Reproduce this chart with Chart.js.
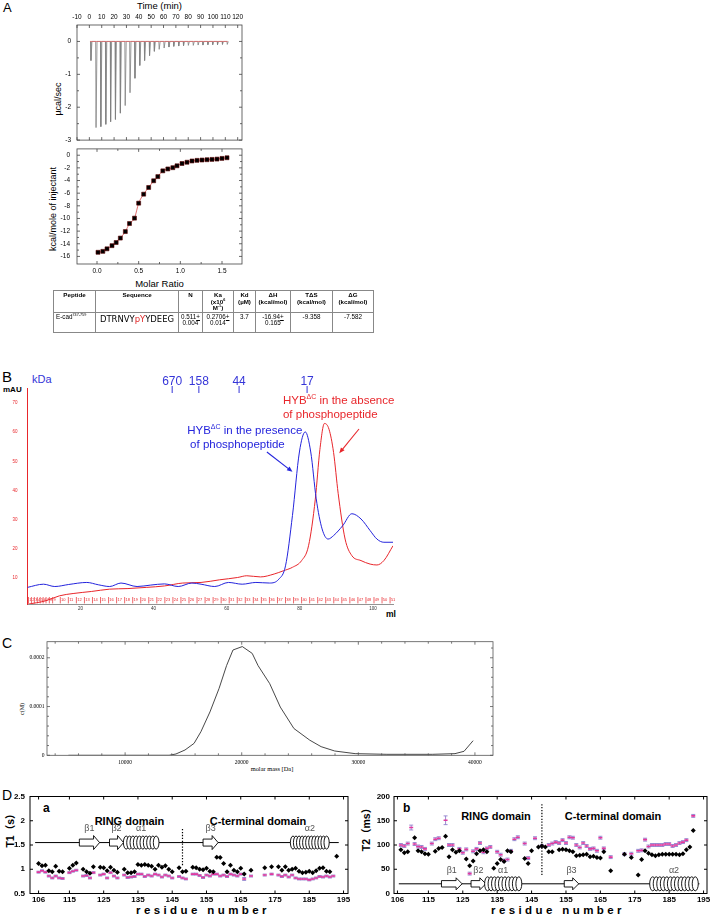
<!DOCTYPE html>
<html>
<head>
<meta charset="utf-8">
<title>HYB binding figure</title>
<script src="https://cdn.jsdelivr.net/npm/chart.js@4.4.1/dist/chart.umd.min.js"></script>
<style>
  html, body { margin: 0; padding: 0; background: #fff; }
  body { position: relative; width: 713px; height: 916px; overflow: hidden; font-family: "Liberation Sans", Arial, sans-serif; color: #000; }
  .cv { position: absolute; }
  .t { position: absolute; white-space: nowrap; line-height: 1; transform: translate(-50%, -50%); }
  .r { transform: translate(-50%, -50%) rotate(-90deg); }
  .p { position: absolute; white-space: nowrap; line-height: 1; }
  .b { font-weight: bold; }
  .serif { font-family: "Liberation Serif", "DejaVu Serif", serif; }
  #tbl { position: absolute; left: 53px; top: 290px; width: 320px; border-collapse: collapse; table-layout: fixed;
         font-family: "Liberation Sans", Arial, sans-serif; font-size: 6.3px; }
  #tbl th, #tbl td { border: 0.7px solid #888; vertical-align: top; text-align: center; padding: 1px 1px 0; line-height: 1.05; }
  #tbl th { font-weight: bold; font-size: 6.2px; }
  #tbl tr.h { height: 21px; }
  #tbl tr.d { height: 20px; }
  #tbl td.pep { text-align: left; padding-left: 2px; }
  #tbl td.seq { font-size: 9.4px; padding-top: 1px; font-family: "Liberation Sans Narrow", "DejaVu Sans Condensed", sans-serif; }
  #tbl sup { font-size: 60%; line-height: 0; }
  #tbl u { text-decoration-thickness: 0.5px; }
</style>
</head>
<body>

<div class="p" style="left:3px;top:1px;font-size:13px">A</div>
<div class="t" style="left:159.5px;top:5.5px;font-size:9.5px">Time (min)</div>
<div class="t r" style="left:58px;top:98.5px;font-size:9px">µcal/sec</div>
<div class="t r" style="left:53px;top:208.6px;font-size:9px">kcal/mole of injectant</div>
<div class="t" style="left:159.5px;top:284px;font-size:9.5px">Molar Ratio</div>

<div class="cv" style="left:20px;top:0px;width:240px;height:150px"><canvas id="itcRaw"></canvas></div>
<div class="cv" style="left:20px;top:138px;width:240px;height:160px"><canvas id="itcFit"></canvas></div>

<table id="tbl">
  <colgroup><col style="width:42px"><col style="width:83px"><col style="width:24px"><col style="width:31px"><col style="width:22px"><col style="width:35px"><col style="width:42px"><col style="width:41px"></colgroup>
  <tr class="h"><th>Peptide</th><th>Sequence</th><th>N</th><th>Ka<br>(x10<sup>6</sup><br>M<sup>-1</sup>)</th><th>Kd<br>(µM)</th><th>ΔH<br>(kcal/mol)</th><th>TΔS<br>(kcal/mol)</th><th>ΔG<br>(kcal/mol)</th></tr>
  <tr class="d"><td class="pep">E-cad<sup>747-759</sup></td><td class="seq">DTRNVY<span style="color:#e02424">pY</span>YDEEG</td><td>0.511<u>+</u><br>0.004</td><td>0.2706<u>+</u><br>0.014</td><td>3.7</td><td>-16.94<u>+</u><br>0.165</td><td>-9.358</td><td>-7.582</td></tr>
</table>

<div class="p" style="left:2px;top:369px;font-size:15px">B</div>
<div class="p" style="left:32px;top:374px;font-size:11px;color:#3535d8">kDa</div>
<div class="p b" style="left:3px;top:386px;font-size:8px">mAU</div>
<div class="p b" style="left:386px;top:610px;font-size:8.5px">ml</div>
<div class="cv" style="left:0px;top:360px;width:420px;height:265px"><canvas id="sec"></canvas></div>

<div class="p" style="left:2px;top:636px;font-size:14px">C</div>
<div class="t r serif" style="left:22px;top:709px;font-size:6px">c(M)</div>
<div class="t serif" style="left:272px;top:769px;font-size:6.4px">molar mass [Da]</div>
<div class="cv" style="left:0px;top:632px;width:515px;height:148px"><canvas id="auc"></canvas></div>

<div class="p" style="left:2px;top:788px;font-size:14px">D</div>
<div class="p b" style="left:43px;top:802px;font-size:12px">a</div>
<div class="p b" style="left:403px;top:802px;font-size:12px">b</div>
<div class="t b" style="left:129.5px;top:820.5px;font-size:11px">RING domain</div>
<div class="t b" style="left:258px;top:820.5px;font-size:11px">C-terminal domain</div>
<div class="t b" style="left:496px;top:815.5px;font-size:11px">RING domain</div>
<div class="t b" style="left:613px;top:815.5px;font-size:11px">C-terminal domain</div>
<div class="t r b" style="left:9.5px;top:828px;font-size:10.5px;font-family:'Liberation Sans','Noto Sans CJK SC',sans-serif">T1（s）</div>
<div class="t r b" style="left:366px;top:827px;font-size:10.5px;font-family:'Liberation Sans','Noto Sans CJK SC',sans-serif">T2（ms）</div>
<div class="t b" style="left:203px;top:910.5px;font-size:11.5px;letter-spacing:3.4px">residue number</div>
<div class="t b" style="left:558px;top:910.5px;font-size:11.5px;letter-spacing:3.4px">residue number</div>
<div class="cv" style="left:0px;top:786px;width:362px;height:130px"><canvas id="t1"></canvas></div>
<div class="cv" style="left:356px;top:786px;width:357px;height:130px"><canvas id="t2"></canvas></div>

<script>
// ---------- Panel A: ITC raw heat ----------
const injTimes = [1.0, 5.1, 9.0, 13.0, 16.9, 20.8, 24.8, 28.7, 32.6, 36.6, 40.5, 44.4, 48.4, 52.3, 56.2,
                  60.2, 64.1, 68.0, 72.0, 75.9, 79.8, 83.8, 87.7, 91.6, 95.6, 99.5, 103.4, 107.4, 111.3];
const injPeaks = [-0.58, -2.62, -2.59, -2.52, -2.44, -2.37, -2.18, -1.95, -1.56, -1.12, -0.73, -0.58, -0.43, -0.30, -0.24,
                  -0.20, -0.17, -0.15, -0.14, -0.13, -0.12, -0.12, -0.11, -0.11, -0.10, -0.10, -0.10, -0.09, -0.09];
const baselineTimes = [0.5, 112];
const timeTicks = [-10, 0, 10, 20, 30, 40, 50, 60, 70, 80, 90, 100, 110, 120];
const ucalTicks = [0, -0.5, -1, -1.5, -2, -2.5, -3];

// ---------- Panel A: integrated heats ----------
const molarRatio = [0.012, 0.07, 0.12, 0.18, 0.23, 0.28, 0.34, 0.39, 0.45, 0.50, 0.56, 0.62, 0.68, 0.73,
                    0.79, 0.85, 0.91, 0.96, 1.02, 1.08, 1.14, 1.20, 1.26, 1.32, 1.38, 1.44, 1.50, 1.56];
const heat = [-15.35, -15.2, -14.8, -14.3, -13.8, -13.1, -12.07, -10.8, -9.95, -7.58, -6.16, -5.1, -4.04, -3.38,
              -2.47, -2.17, -1.97, -1.67, -1.31, -1.11, -0.91, -0.81, -0.76, -0.71, -0.66, -0.61, -0.5, -0.4];
const ratioTicks = [0, 0.25, 0.5, 0.75, 1, 1.25, 1.5];
const heatTicks = [0, -1, -2, -3, -4, -5, -6, -7, -8, -9, -10, -11, -12, -13, -14, -15, -16];

// ---------- Panel B: gel filtration ----------
const blueVol = [5.5, 9.9, 13, 16.8, 21.75, 24.9, 28, 31.1, 35.5, 39.25, 43, 46.75, 50.5, 53, 56.75, 60.5, 64.25, 68,
                 71.75, 74.25, 76.1, 78, 79.9, 81.5, 83, 84.5, 86.1, 87.75, 89.25, 91.75, 94.25, 96.75, 99.25, 101.1, 103, 105.5];
const blueAbs = [6.7, 7.8, 7.0, 7.7, 8.4, 7.6, 7.0, 8.2, 7.0, 7.5, 7.9, 7.0, 8.2, 7.8, 7.0, 8.4, 7.8, 8.4,
                 8.2, 9.5, 14.1, 31.4, 53.2, 60.1, 53.2, 37.1, 26.8, 23.3, 24.5, 27.9, 32, 30.2, 26.2, 23.3, 22.2, 22.2];
const redVol = [5.5, 10.5, 14.25, 18, 23, 28, 33, 38, 43, 48, 53, 58, 63, 65.5, 69.25, 73, 75.5, 78, 80.5, 82.4,
                84.25, 85.5, 86.75, 88, 89.25, 90.5, 92.4, 94.25, 96.75, 99.25, 101.1, 103, 105.5];
const redAbs = [0.9, 2.1, 3.8, 4.6, 5.3, 6.1, 6.3, 6.7, 7.2, 8.2, 8.4, 9.3, 10.1, 10.7, 10.3, 11.3, 12.4, 13.6, 15.9, 21,
                37, 54, 63, 61, 53, 39, 23.3, 17.6, 15.9, 14.7, 14.4, 15.9, 21];
const fractionMl = [5.8, 6.6, 7.4, 8.2, 9.0, 9.8, 10.6, 11.5, 12.4, 14.5, 16.7, 18.9, 21.1, 23.3, 25.5, 27.7, 29.9, 32.1,
                    34.3, 36.5, 38.7, 40.9, 43.1, 45.3, 47.5, 49.7, 51.9, 54.1, 56.3, 58.5, 60.7, 62.9, 65.1, 67.3, 69.5,
                    71.7, 73.9, 76.1, 78.3, 80.5, 82.7, 84.9, 87.1, 89.3, 91.5, 93.7, 95.9, 98.1, 100.3, 102.5, 104.7];
const kdaLabels = ['670', '158', '44', '17'];
const kdaVolumes = [45.1, 52.4, 63.4, 82.0];
const mlTicks = [20, 40, 60, 80, 100];
const mauTicks = [10, 20, 30, 40, 50, 60, 70];
// annotation anchors in (ml, mAU)
const secArrows = [[71.0, 53.2, 78.0, 46.4, '#2424dc'], [96.2, 61.1, 90.8, 52.8, '#e8262b']];
const secNotes = [
  [75.4, 70.8, '#e8262b', 'HYB', 'ΔC', ' in the absence'],
  [75.4, 66.1, '#e8262b', 'of phosphopeptide', '', ''],
  [49.2, 60.3, '#2424dc', 'HYB', 'ΔC', ' in the presence'],
  [50.0, 55.7, '#2424dc', 'of phosphopeptide', '', '']
];

// ---------- Panel C: mass distribution ----------
const massDa = [5136, 13775, 14358, 15136, 15914, 16498, 17276, 18055, 18700, 19250, 20050, 20900, 21400, 22400,
                23307, 24475, 25836, 26809, 27976, 29727, 32450, 36340, 38290, 39066, 39845];
const concM = [0, 0, 2.7e-6, 1.09e-5, 2.45e-5, 4.83e-5, 8.9e-5, 1.37e-4, 1.84e-4, 2.16e-4, 2.23e-4, 2.09e-4, 1.84e-4, 1.47e-4,
               9.9e-5, 5.5e-5, 3.1e-5, 1.77e-5, 8.8e-6, 3.4e-6, 2.0e-6, 2.0e-6, 3.4e-6, 8.2e-6, 3.0e-5];
const massTicks = [4000, 6000, 8000, 10000, 12000, 14000, 16000, 18000, 20000, 22000, 24000, 26000, 28000, 30000,
                   32000, 34000, 36000, 38000, 40000];
const concTicks = [0, 0.00002, 0.00004, 0.00006, 0.00008, 0.0001, 0.00012, 0.00014, 0.00016, 0.00018, 0.0002, 0.00022];
const concLabeled = [0, 0.0001, 0.0002];

// ---------- Panel D: relaxation ----------
const residueTicks = [106, 115, 125, 135, 145, 155, 165, 175, 185, 195];
const t1Ticks = [0.5, 1, 1.5, 2, 2.5];
const t2Ticks = [0, 50, 100, 150, 200];
const t1Black = [[106,1.12],[107,1.07],[108,1.08],[109,0.97],[110,0.95],[111,1.06],[112,0.96],[113,0.95],[115,1.02],[116,1.08],
  [117,1.13],[119,1.0],[120,0.95],[121,0.92],[122,1.05],[124,1.04],[125,1.03],[126,0.97],[127,1.04],[128,0.98],[129,0.94],
  [131,1.0],[132,0.93],[133,0.93],[134,0.95],[135,1.1],[136,1.08],[137,1.1],[138,1.08],[139,1.06],[140,1.0],[141,1.08],
  [142,1.04],[143,1.07],[144,1.0],[145,0.95],[147,1.03],[148,0.95],[149,0.96],[151,1.04],[152,1.03],[153,1.0],[154,0.99],
  [155,1.02],[156,0.96],[157,0.95],[158,1.25],[159,1.24],[160,1.12],[161,0.95],[162,1.08],[163,0.98],[164,0.95],[165,1.02],
  [166,0.9],[168,0.98],[172,1.03],[174,1.05],[176,1.05],[177,0.98],[178,1.05],[179,0.98],[180,1.0],[181,1.02],[182,0.96],
  [183,0.93],[184,0.94],[185,0.96],[186,0.93],[187,0.97],[188,1.02],[189,1.03],[190,0.96],[191,0.95],[193,1.27]];
const t1Magenta = [[106,0.94,0.02],[107,0.97,0.02],[108,0.94,0.02],[109,0.86,0.02],[110,0.82,0.02],[111,0.86,0.02],
  [112,0.82,0.02],[113,0.81,0.02],[115,0.93,0.02],[116,0.96,0.02],[117,0.98,0.02],[119,0.86,0.02],[120,0.87,0.02],
  [121,0.82,0.02],[122,0.93,0.02],[124,0.88,0.02],[125,0.9,0.02],[126,0.82,0.02],[127,0.93,0.02],[128,0.86,0.02],
  [129,0.82,0.02],[131,0.88,0.02],[132,0.83,0.02],[133,0.84,0.02],[134,0.85,0.02],[135,0.9,0.02],[136,0.9,0.02],
  [137,0.85,0.02],[138,0.88,0.02],[139,0.86,0.02],[140,0.9,0.02],[141,0.88,0.02],[142,0.84,0.02],[143,0.88,0.02],
  [144,0.86,0.02],[145,0.82,0.02],[147,0.85,0.02],[148,0.82,0.02],[149,0.8,0.02],[151,0.9,0.02],[152,0.9,0.02],
  [153,0.87,0.02],[154,0.83,0.02],[155,0.88,0.02],[156,0.86,0.02],[157,0.9,0.02],[158,0.9,0.02],[159,0.86,0.02],
  [160,0.88,0.02],[161,0.85,0.02],[162,0.9,0.02],[163,0.88,0.02],[164,0.86,0.02],[165,0.9,0.02],[166,0.8,0.03],
  [168,0.86,0.02],[172,0.88,0.02],[174,0.9,0.02],[176,0.88,0.02],[177,0.85,0.02],[178,0.88,0.02],[179,0.84,0.02],
  [180,0.88,0.02],[181,0.82,0.02],[182,0.8,0.02],[183,0.8,0.02],[184,0.8,0.02],[185,0.78,0.02],[186,0.8,0.02],
  [187,0.82,0.02],[188,0.85,0.02],[189,0.84,0.02],[190,0.86,0.02],[191,0.84,0.02],[192,0.86,0.02]];
const t2Black = [[107,90],[108,84],[109,86],[111,115],[112,88],[113,86],[114,82],[115,81],[117,87],[118,93],[119,95],
  [120,118],[121,76],[122,90],[123,85],[124,88],[126,71],[127,57],[128,67],[129,82],[130,88],[131,90],[132,86],[134,52],
  [135,62],[136,70],[137,66],[138,88],[139,86],[143,72],[144,62],[145,88],[147,96],[148,98],[149,96],[150,86],[151,86],
  [153,90],[154,91],[155,90],[156,88],[157,86],[158,78],[159,79],[160,80],[161,81],[162,76],[163,77],[164,74],[165,73],
  [166,86],[168,47],[172,81],[174,74],[176,38],[177,70],[178,88],[179,83],[180,80],[181,78],[182,80],[183,81],[184,81],
  [185,81],[186,81],[187,81],[188,80],[189,82],[190,90],[191,96],[192,130]];
const t2Magenta = [[107,100,3],[108,98,3],[109,103,3],[110,136,5],[111,102,3],[112,97,3],[113,96,3],[114,92,3],[116,103,3],
  [117,112,3],[118,114,3],[120,151,9],[121,100,3],[122,100,3],[124,92,3],[125,84,3],[126,91,3],[127,41,3],[128,87,3],
  [129,92,3],[130,104,3],[131,85,3],[132,93,3],[133,96,3],[135,86,3],[136,80,3],[137,68,3],[138,70,3],[139,88,3],
  [140,112,3],[141,116,3],[143,103,3],[144,73,3],[146,114,3],[148,98,3],[150,100,3],[151,103,3],[152,106,3],[153,104,3],
  [154,110,3],[155,104,3],[156,116,3],[157,115,3],[158,100,3],[159,95,3],[160,104,3],[161,98,3],[162,92,3],[163,93,3],
  [164,88,3],[165,115,3],[166,93,3],[168,75,3],[172,81,3],[174,82,3],[176,88,3],[177,89,3],[178,111,3],[179,97,3],
  [180,100,3],[181,100,3],[182,100,3],[183,100,3],[184,102,3],[185,102,3],[186,98,3],[187,100,3],[188,104,3],
  [189,106,3],[190,110,3],[192,160,3]];
// secondary structure: label, kind, first residue, last residue, coils
const ssT1 = [['β1','beta',117.9,123.8,0],['β2','beta',126.7,130.8,0],['α1','helix',131.1,140.8,10],
              ['β3','beta',154,158.4,0],['α2','helix',179.8,190.5,12]];
const ssT2 = [['β1','beta',118.8,124.8,0],['β2','beta',127.4,131.7,0],['α1','helix',131.7,141.8,10],
              ['β3','beta',154.5,158.7,0],['α2','helix',179.7,193.1,13]];
const domainBoundary = 148;

// ---------- helpers ----------
Chart.defaults.animation = false;
Chart.defaults.responsive = true;
Chart.defaults.maintainAspectRatio = false;
Chart.defaults.font.family = '"Liberation Sans", Arial, sans-serif';
Chart.defaults.plugins.legend.display = false;
Chart.defaults.plugins.tooltip.enabled = false;

function axis(o) {
  return {
    type: 'linear', position: o.position, min: o.min, max: o.max,
    grid: { display: false, drawTicks: false },
    border: o.border || { display: false },
    afterBuildTicks: s => { s.ticks = o.ticks.map(v => ({ value: v })); },
    afterFit: s => { if (s.isHorizontal()) s.height = o.size; else s.width = o.size; },
    ticks: { autoSkip: false, maxRotation: 0, padding: o.pad, color: o.color || '#000',
             font: o.font, callback: o.label || (v => String(v)) }
  };
}
const pts = (xs, ys) => xs.map((x, i) => ({ x: x, y: ys[i] }));

const framePlugin = {
  id: 'frame',
  defaults: { show: false, color: '#000', width: 1, major: 3, minor: 2 },
  afterDraw(chart, args, o) {
    if (!o.show) return;
    const { ctx, chartArea: a } = chart;
    ctx.save();
    ctx.strokeStyle = o.color;
    ctx.lineWidth = o.width;
    ctx.strokeRect(a.left, a.top, a.right - a.left, a.bottom - a.top);
    const tick = (scale, horiz) => scale.ticks.forEach(t => {
      const p = scale.getPixelForValue(t.value);
      const len = t.label ? o.major : o.minor;
      ctx.beginPath();
      if (horiz) {
        ctx.moveTo(p, a.top); ctx.lineTo(p, a.top + len);
        ctx.moveTo(p, a.bottom); ctx.lineTo(p, a.bottom - len);
      } else {
        ctx.moveTo(a.left, p); ctx.lineTo(a.left + len, p);
        ctx.moveTo(a.right, p); ctx.lineTo(a.right - len, p);
      }
      ctx.stroke();
    });
    tick(chart.scales.x, true);
    tick(chart.scales.y, false);
    ctx.restore();
  }
};

const errPlugin = {
  id: 'errbars',
  beforeDatasetsDraw(chart) {
    const { ctx } = chart, xs = chart.scales.x, ys = chart.scales.y;
    chart.data.datasets.forEach(ds => {
      if (!ds.errors) return;
      ctx.save();
      ctx.strokeStyle = ds.errorColor;
      ctx.lineWidth = 0.9;
      ds.data.forEach((d, j) => {
        const x = xs.getPixelForValue(d.x);
        const y1 = ys.getPixelForValue(d.y - ds.errors[j]), y2 = ys.getPixelForValue(d.y + ds.errors[j]);
        ctx.beginPath();
        ctx.moveTo(x, y1); ctx.lineTo(x, y2);
        ctx.moveTo(x - 2, y1); ctx.lineTo(x + 2, y1);
        ctx.moveTo(x - 2, y2); ctx.lineTo(x + 2, y2);
        ctx.stroke();
      });
      ctx.restore();
    });
  }
};
Chart.register(framePlugin, errPlugin);

// secondary-structure cartoon + domain divider for panel D
const ssPlugin = {
  id: 'ss',
  afterDatasetsDraw(chart, args, o) {
    const { ctx } = chart, xs = chart.scales.x, ys = chart.scales.y;
    const y = ys.getPixelForValue(o.level);
    ctx.save();
    ctx.strokeStyle = '#000';
    ctx.setLineDash([1.3, 1.6]);
    ctx.lineWidth = 1.2;
    ctx.beginPath();
    ctx.moveTo(xs.getPixelForValue(domainBoundary), ys.getPixelForValue(o.divider[0]));
    ctx.lineTo(xs.getPixelForValue(domainBoundary), ys.getPixelForValue(o.divider[1]));
    ctx.stroke();
    ctx.setLineDash([]);
    ctx.lineWidth = 1;
    ctx.beginPath();
    ctx.moveTo(xs.getPixelForValue(o.line[0]), y);
    ctx.lineTo(xs.getPixelForValue(o.line[1]), y);
    ctx.stroke();
    o.elements.forEach(([label, kind, a, b, n]) => {
      const x0 = xs.getPixelForValue(a), x1 = xs.getPixelForValue(b);
      ctx.fillStyle = '#fff';
      ctx.lineWidth = 0.9;
      if (kind === 'beta') {
        const hx = x1 - o.headLen;
        ctx.beginPath();
        ctx.moveTo(x0, y - o.body); ctx.lineTo(hx, y - o.body); ctx.lineTo(hx, y - o.head);
        ctx.lineTo(x1, y); ctx.lineTo(hx, y + o.head); ctx.lineTo(hx, y + o.body);
        ctx.lineTo(x0, y + o.body); ctx.closePath();
        ctx.fill(); ctx.stroke();
      } else {
        const pitch = (x1 - x0) / n;
        for (let i = 0; i < n; i++) {
          ctx.beginPath();
          ctx.ellipse(x0 + pitch * (i + 0.5), y, pitch * 0.85, o.helix, 0, 0, Math.PI * 2);
          ctx.fill(); ctx.stroke();
        }
      }
      ctx.fillStyle = '#555';
      ctx.font = '9px "Liberation Sans", "DejaVu Sans", sans-serif';
      ctx.textAlign = 'center';
      ctx.textBaseline = 'middle';
      ctx.fillText(label, (x0 + x1) / 2, ys.getPixelForValue(o.labelLevel));
    });
    ctx.restore();
  }
};

// gel filtration annotations: calibration markers, fraction numbers, arrows and labels
const secPlugin = {
  id: 'secnotes',
  afterDatasetsDraw(chart) {
    const { ctx, chartArea: a } = chart, xs = chart.scales.x, ys = chart.scales.y;
    ctx.save();
    ctx.fillStyle = '#e8262b';
    ctx.font = '4px "Liberation Sans", Arial, sans-serif';
    ctx.textAlign = 'left';
    ctx.textBaseline = 'middle';
    fractionMl.forEach((v, i) => {
      ctx.fillText(String(i + 1), xs.getPixelForValue(v) + 0.8, ys.getPixelForValue(2.3));
    });
    ctx.strokeStyle = '#3535d8';
    ctx.fillStyle = '#3535d8';
    ctx.lineWidth = 1;
    ctx.font = '12px "Liberation Sans", Arial, sans-serif';
    ctx.textAlign = 'center';
    ctx.textBaseline = 'alphabetic';
    kdaVolumes.forEach((v, i) => {
      const x = xs.getPixelForValue(v);
      ctx.beginPath(); ctx.moveTo(x, a.top - 2.5); ctx.lineTo(x, a.top + 4.5); ctx.stroke();
      ctx.fillText(kdaLabels[i], x, a.top - 4);
    });
    secArrows.forEach(([x1, y1, x2, y2, c]) => {
      const px1 = xs.getPixelForValue(x1), py1 = ys.getPixelForValue(y1);
      const px2 = xs.getPixelForValue(x2), py2 = ys.getPixelForValue(y2);
      const ang = Math.atan2(py2 - py1, px2 - px1);
      ctx.strokeStyle = c; ctx.fillStyle = c; ctx.lineWidth = 1.1;
      ctx.beginPath(); ctx.moveTo(px1, py1); ctx.lineTo(px2 - 4 * Math.cos(ang), py2 - 4 * Math.sin(ang)); ctx.stroke();
      ctx.beginPath();
      ctx.moveTo(px2, py2);
      ctx.lineTo(px2 - 6 * Math.cos(ang - 0.4), py2 - 6 * Math.sin(ang - 0.4));
      ctx.lineTo(px2 - 6 * Math.cos(ang + 0.4), py2 - 6 * Math.sin(ang + 0.4));
      ctx.closePath(); ctx.fill();
    });
    ctx.textAlign = 'left';
    ctx.textBaseline = 'middle';
    secNotes.forEach(([x, y, c, t1, sup, t2]) => {
      let cx = xs.getPixelForValue(x);
      const cy = ys.getPixelForValue(y);
      ctx.fillStyle = c;
      ctx.font = '11.5px "Liberation Sans", Arial, sans-serif';
      ctx.fillText(t1, cx, cy); cx += ctx.measureText(t1).width;
      if (sup) {
        ctx.font = '7px "Liberation Sans", Arial, sans-serif';
        ctx.fillText(sup, cx, cy - 4); cx += ctx.measureText(sup).width;
      }
      if (t2) {
        ctx.font = '11.5px "Liberation Sans", Arial, sans-serif';
        ctx.fillText(t2, cx, cy);
      }
    });
    ctx.restore();
  }
};

// ---------- A: raw ITC trace ----------
const rawTrace = [];
injTimes.forEach((t, i) => {
  rawTrace.push({ x: t, y: 0 }, { x: t + 0.3, y: injPeaks[i] }, { x: t + 1.1, y: 0 });
});
const fontA = { size: 6.5 };
new Chart(document.getElementById('itcRaw'), {
  type: 'line',
  data: { datasets: [
    { data: baselineTimes.map(t => ({ x: t, y: 0 })), borderColor: '#e06a6a', borderWidth: 0.8, pointRadius: 0 },
    { data: rawTrace, borderColor: '#808080', borderWidth: 0.8, pointRadius: 0, tension: 0 }
  ] },
  options: {
    layout: { padding: { top: 0, left: 0, right: 18, bottom: 6 } },
    scales: {
      x: axis({ position: 'top', min: -10, max: 123.5, ticks: timeTicks, size: 25, pad: 4, font: fontA }),
      y: axis({ position: 'left', min: -3, max: 0.5, ticks: ucalTicks, size: 57, pad: 6, font: fontA,
                label: v => Number.isInteger(v) ? String(v) : '' })
    },
    plugins: { frame: { show: true, color: '#444', width: 0.8, major: 3, minor: 2 } }
  }
});

// ---------- A: binding isotherm ----------
new Chart(document.getElementById('itcFit'), {
  type: 'scatter',
  data: { datasets: [
    { data: pts(molarRatio, heat), pointStyle: 'rect', pointRadius: 2.8, backgroundColor: '#000',
      borderColor: '#5a0000', borderWidth: 0.6 },
    { data: pts(molarRatio, heat), showLine: true, borderColor: '#d84a4a', borderWidth: 0.8, pointRadius: 0,
      cubicInterpolationMode: 'monotone' }
  ] },
  options: {
    layout: { padding: { top: 6, left: 0, right: 18, bottom: 0 } },
    scales: {
      x: axis({ position: 'bottom', min: -0.24, max: 1.74, ticks: ratioTicks, size: 34, pad: 3, font: fontA,
                label: v => (v * 2) % 1 === 0 ? v.toFixed(1) : '' }),
      y: axis({ position: 'left', min: -17.2, max: 1.0, ticks: heatTicks, size: 57, pad: 7, font: fontA,
                label: v => v % 2 === 0 ? String(v) : '' })
    },
    plugins: { frame: { show: true, color: '#444', width: 0.8, major: 3, minor: 2 } }
  }
});

// ---------- B: size exclusion ----------
new Chart(document.getElementById('sec'), {
  type: 'scatter',
  data: { datasets: [
    { data: pts(blueVol, blueAbs), showLine: true, borderColor: '#2424dc', borderWidth: 1, pointRadius: 0,
      cubicInterpolationMode: 'monotone' },
    { data: pts(redVol, redAbs), showLine: true, borderColor: '#e8262b', borderWidth: 1, pointRadius: 0,
      cubicInterpolationMode: 'monotone' },
    { data: fractionMl.map(v => ({ x: v, y: 2.3 })), pointStyle: 'line', rotation: 90, pointRadius: 3.2,
      borderColor: '#e8262b', borderWidth: 0.7 }
  ] },
  options: {
    layout: { padding: { top: 28.5, left: 0, right: 27, bottom: 0 } },
    scales: {
      x: axis({ position: 'bottom', min: 5.5, max: 105.5, ticks: mlTicks, size: 21, pad: 2.5, color: '#333',
                font: { size: 4.5 }, border: { display: true, color: '#777', width: 0.8 } }),
      y: axis({ position: 'left', min: 1, max: 75, ticks: mauTicks, size: 27.4, pad: 10, color: '#e8262b',
                font: { size: 4.5 }, border: { display: true, color: '#e8262b', width: 1 } })
    }
  },
  plugins: [secPlugin]
});

// ---------- C: molar mass distribution ----------
new Chart(document.getElementById('auc'), {
  type: 'scatter',
  data: { datasets: [
    { data: pts(massDa, concM), showLine: true, borderColor: '#333', borderWidth: 0.9, pointRadius: 0, tension: 0 }
  ] },
  options: {
    layout: { padding: { top: 9.7, left: 0, right: 22, bottom: 0 } },
    scales: {
      x: axis({ position: 'bottom', min: 3300, max: 41550, ticks: massTicks, size: 24.7, pad: 3.8,
                font: { size: 5.5, family: '"Liberation Serif", serif' },
                label: v => v % 10000 === 0 ? String(v) : '' }),
      y: axis({ position: 'left', min: 0, max: 0.000233, ticks: concTicks, size: 47, pad: 2.5,
                font: { size: 5.5, family: '"Liberation Serif", serif' },
                label: v => concLabeled.includes(v) ? (v === 0 ? '0' : v.toFixed(4)) : '' })
    },
    plugins: { frame: { show: true, color: '#555', width: 0.8, major: 3, minor: 2 } }
  }
});

// ---------- D: T1 and T2 ----------
const fontD = { size: 8, weight: 'bold' };
function relaxChart(id, black, magenta, yTicks, yMin, yMax, yWidth, ss) {
  return new Chart(document.getElementById(id), {
    type: 'scatter',
    data: { datasets: [
      { data: black.map(d => ({ x: d[0], y: d[1] })), pointStyle: 'rectRot', pointRadius: 2.5,
        backgroundColor: '#000', borderWidth: 0 },
      { data: magenta.map(d => ({ x: d[0], y: d[1] })), errors: magenta.map(d => d[2]), errorColor: '#8f7fcc',
        pointStyle: 'line', pointRadius: 2, borderColor: '#e2389e', borderWidth: 1.6 }
    ] },
    options: {
      layout: { padding: { top: 10.5, left: 0, right: ss.right, bottom: 0 } },
      scales: {
        x: axis({ position: 'bottom', min: ss.xMin, max: ss.xMax, ticks: residueTicks, size: 22.5, pad: 1.5, font: fontD }),
        y: axis({ position: 'left', min: yMin, max: yMax, ticks: yTicks, size: yWidth, pad: ss.yPad, font: fontD })
      },
      plugins: { frame: { show: true, color: '#000', width: 1, major: 3, minor: 3 }, ss: ss }
    },
    plugins: [ssPlugin]
  });
}
relaxChart('t1', t1Black, t1Magenta, t1Ticks, 0.5, 2.5, 30,
  { elements: ssT1, level: 1.55, labelLevel: 1.83, line: [105, 193.6], divider: [1.085, 1.84],
    head: 7, body: 3.5, headLen: 6, helix: 6.5, xMin: 103.5, xMax: 196.3, right: 14, yPad: 5 });
relaxChart('t2', t2Black, t2Magenta, t2Ticks, 0, 200, 38,
  { elements: ssT2, level: 20, labelLevel: 48, line: [106.4, 193.8], divider: [38, 187],
    head: 6, body: 3.2, headLen: 6, helix: 7, xMin: 105, xMax: 196, right: 6, yPad: 4 });
</script>
</body>
</html>
